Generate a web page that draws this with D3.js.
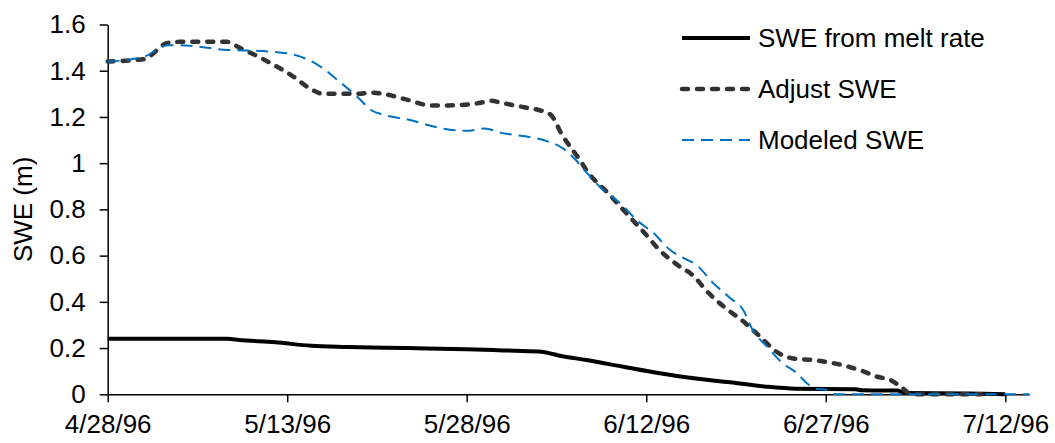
<!DOCTYPE html>
<html>
<head>
<meta charset="utf-8">
<script src="https://cdn.jsdelivr.net/npm/d3@7"></script>
<style>
  body { margin: 0; background: #fff; }
  text { font-family: "Liberation Sans", Arial, sans-serif; }
</style>
</head>
<body>
<div id="chart"></div>
<script>
// days counted from 4/28/96
var startDate = new Date(1996, 3, 28);

var meltDays = [0, 10, 11, 14, 17, 20, 25, 30, 33, 36, 38, 40, 43, 46, 49, 52, 55, 57.5, 62.5, 63, 66, 66.5, 72, 75];
var meltSWE = [0.24, 0.24, 0.235, 0.225, 0.21, 0.205, 0.2, 0.195, 0.19, 0.185, 0.165, 0.148, 0.12, 0.092, 0.069, 0.052, 0.033, 0.024, 0.022, 0.017, 0.016, 0.006, 0.004, 0];

var adjustDays = [0, 3, 5, 6, 10, 11, 13, 15.5, 17, 18, 21, 22, 23, 25, 27, 28.5, 31, 32, 33, 35, 36, 37, 38, 39.5, 40, 42, 43.4, 45, 46, 47.6, 49, 50, 51.7, 53, 54.5, 56, 57.3, 59, 60.6, 62, 63.1, 64.3, 65.4, 66.2, 67.2, 73];
var adjustSWE = [1.44, 1.45, 1.52, 1.525, 1.525, 1.5, 1.45, 1.375, 1.32, 1.3, 1.3, 1.305, 1.3, 1.275, 1.25, 1.25, 1.26, 1.27, 1.26, 1.24, 1.23, 1.21, 1.12, 1.01, 0.97, 0.86, 0.78, 0.69, 0.63, 0.56, 0.51, 0.45, 0.37, 0.32, 0.25, 0.18, 0.155, 0.148, 0.135, 0.118, 0.1, 0.076, 0.062, 0.036, 0, 0];

var modeledDays = [0, 3, 5, 6, 10, 13, 15.5, 18, 19.2, 21, 22, 23, 25, 28, 30, 31.5, 33, 35, 36.4, 38, 39, 40, 41.4, 42.8, 44.2, 45.6, 47, 48.1, 49.2, 50.6, 52, 53.1, 53.9, 55.1, 56.4, 57.6, 58.4, 59.3, 60, 60.5, 77];
var modeledSWE = [1.44, 1.46, 1.51, 1.51, 1.49, 1.485, 1.47, 1.41, 1.36, 1.28, 1.23, 1.21, 1.19, 1.15, 1.14, 1.15, 1.13, 1.115, 1.1, 1.065, 1.02, 0.96, 0.884, 0.828, 0.754, 0.698, 0.624, 0.59, 0.559, 0.481, 0.417, 0.365, 0.278, 0.206, 0.134, 0.091, 0.049, 0.023, 0.02, 0, 0];

var xTickDays = [0, 15, 30, 45, 60, 75];
var xTickLabels = ["4/28/96", "5/13/96", "5/28/96", "6/12/96", "6/27/96", "7/12/96"];
var yTicks = [0, 0.2, 0.4, 0.6, 0.8, 1, 1.2, 1.4, 1.6];

var seriesNames = ["SWE from melt rate", "Adjust SWE", "Modeled SWE"];

var width = 1055, height = 443;
var dayOf = function (d) { return new Date(startDate.getTime() + d * 864e5); };

var svg = d3.select('#chart')
    .append('svg')
    .attr('width', width)
    .attr('height', height);

var x = d3.scaleTime()
    .domain([startDate, dayOf(77)])
    .range([107.7, 1029.2]);

var y = d3.scaleLinear()
    .domain([0, 1.6])
    .range([394.3, 24.5]);

// axes
var xAxis = svg.append('g')
    .attr('transform', 'translate(0,' + y(0) + ')')
    .call(d3.axisBottom(x)
        .tickValues(xTickDays.map(dayOf))
        .tickFormat(function (d, i) { return xTickLabels[i]; })
        .tickSize(8)
        .tickPadding(12)
        .tickSizeOuter(0));

var yAxis = svg.append('g')
    .attr('transform', 'translate(' + x(startDate) + ',0)')
    .call(d3.axisLeft(y)
        .tickValues(yTicks)
        .tickFormat(d3.format('~g'))
        .tickSize(8)
        .tickPadding(14)
        .tickSizeOuter(0));

[xAxis, yAxis].forEach(function (a) {
    a.selectAll('path, line').attr('stroke', '#000').attr('stroke-width', 1.5);
    a.selectAll('text').attr('font-size', 26).attr('fill', '#000')
        .attr('font-family', '"Liberation Sans", Arial, sans-serif');
});

svg.append('text')
    .text('SWE (m)')
    .attr('transform', 'translate(32,' + ((y(0) + y(1.6)) / 2) + ') rotate(-90)')
    .attr('text-anchor', 'middle')
    .attr('font-size', 26)
    .attr('fill', '#000');

// series
var styles = [
    { color: '#000000', width: 4, dash: null, cap: 'butt' },
    { color: '#333333', width: 4.5, dash: '6,9', cap: 'round' },
    { color: '#0070C0', width: 2, dash: '12,7', cap: 'butt' }
];

var seriesData = [
    d3.zip(meltDays, meltSWE),
    d3.zip(adjustDays, adjustSWE),
    d3.zip(modeledDays, modeledSWE)
];

var line = d3.line()
    .x(function (d) { return x(dayOf(d[0])); })
    .y(function (d) { return y(d[1]); })
    .curve(d3.curveMonotoneX);

seriesData.forEach(function (data, i) {
    svg.append('path')
        .attr('d', line(data))
        .attr('fill', 'none')
        .attr('stroke', styles[i].color)
        .attr('stroke-width', styles[i].width)
        .attr('stroke-dasharray', styles[i].dash)
        .attr('stroke-linecap', styles[i].cap)
        .attr('stroke-linejoin', 'round');
});

// legend
var legendY = [38, 89, 140];
seriesNames.forEach(function (name, i) {
    svg.append('line')
        .attr('x1', 682)
        .attr('x2', 750)
        .attr('y1', legendY[i])
        .attr('y2', legendY[i])
        .attr('stroke', styles[i].color)
        .attr('stroke-width', styles[i].width)
        .attr('stroke-dasharray', styles[i].dash)
        .attr('stroke-linecap', styles[i].cap);

    svg.append('text')
        .text(name)
        .attr('x', 758)
        .attr('y', legendY[i])
        .attr('dy', '0.35em')
        .attr('font-size', 26)
        .attr('fill', '#000');
});
</script>
</body>
</html>
